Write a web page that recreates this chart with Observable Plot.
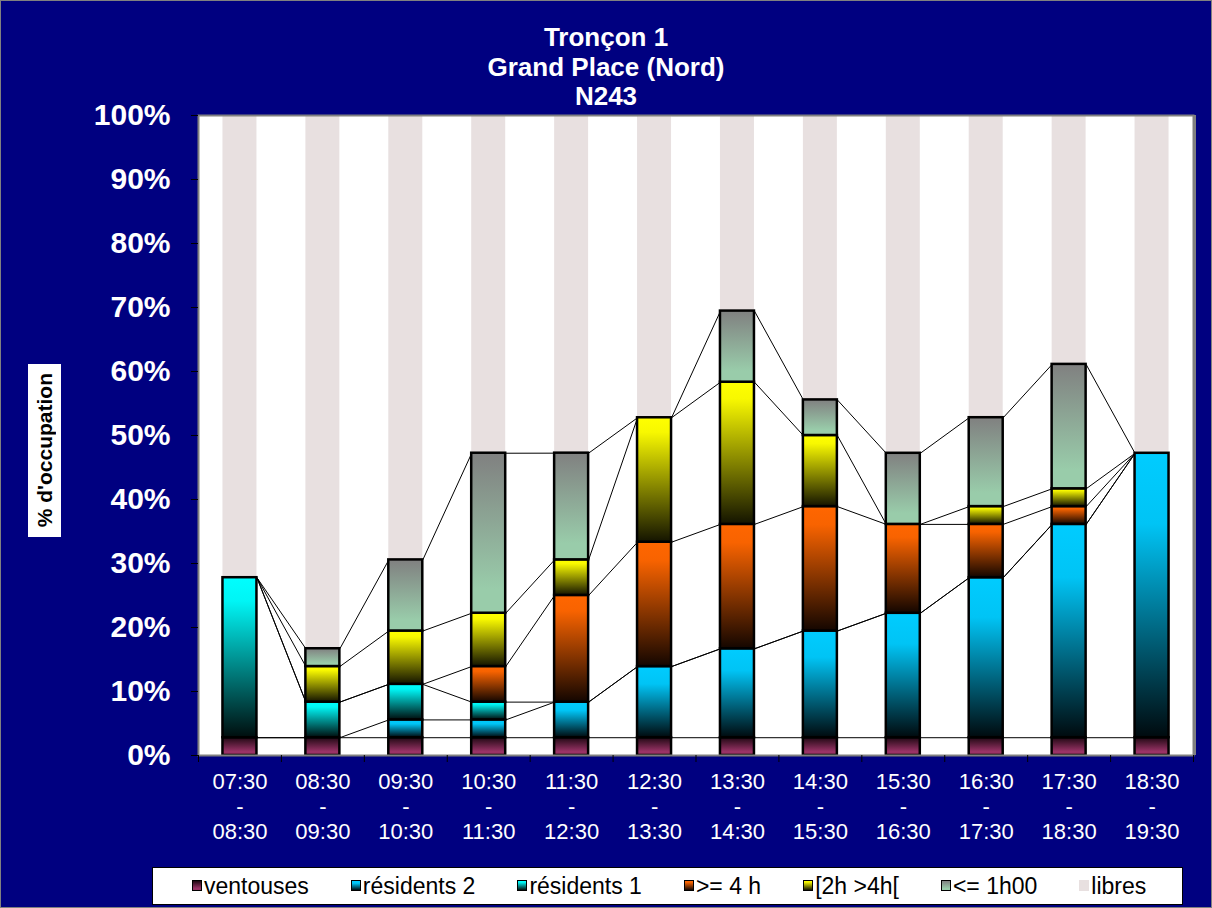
<!DOCTYPE html>
<html>
<head>
<meta charset="utf-8">
<script src="https://cdn.jsdelivr.net/npm/d3@7"></script>
<script src="https://cdn.jsdelivr.net/npm/@observablehq/plot@0.6"></script>
<style>
  body { margin: 0; background: #000080; }
  #wrap { position: relative; width: 1212px; height: 908px; overflow: hidden; background: #000080;
          font-family: "Liberation Sans", Arial, sans-serif; }
  #chart { position: absolute; left: 0; top: 0; }
  #title { position: absolute; left: 0; top: 23px; width: 1212px; text-align: center; color: white;
           font-weight: bold; font-size: 26px; line-height: 29.5px; }
  #ylabel { position: absolute; left: 28px; top: 364px; width: 33px; height: 173px; background: white;
            display: flex; align-items: center; justify-content: center; }
  #ylabel span { writing-mode: vertical-rl; transform: rotate(180deg); font-weight: bold; font-size: 21px;
                 color: black; white-space: nowrap; }
  #legend { position: absolute; left: 152px; top: 867px; width: 1031px; height: 38px; box-sizing: border-box;
            border: 1px solid black; background: white; display: flex; align-items: center;
            justify-content: flex-start; gap: 42px; padding-left: 39px; }
  .item { display: flex; align-items: center; white-space: nowrap; flex-shrink: 0; }
  .sw { width: 10px; height: 11px; flex-shrink: 0; box-sizing: border-box; border: 1.5px solid black;
        margin-right: 2px; margin-top: -2px; }
  .lt { font-size: 23px; color: black; }
  #border { position: absolute; left: 0; top: 0; width: 1212px; height: 908px; box-sizing: border-box;
            border: 1px solid #808080; pointer-events: none; }
</style>
</head>
<body>
<div id="wrap">
  <div id="chart"></div>
  <div id="title">Tronçon 1<br>Grand Place (Nord)<br>N243</div>
  <div id="ylabel"><span>% d'occupation</span></div>
  <div id="legend"></div>
  <div id="border"></div>
</div>
<script>
// ---- Data (percent of 36 places) ----
const categories = [
  "07:30\n-\n08:30", "08:30\n-\n09:30", "09:30\n-\n10:30", "10:30\n-\n11:30",
  "11:30\n-\n12:30", "12:30\n-\n13:30", "13:30\n-\n14:30", "14:30\n-\n15:30",
  "15:30\n-\n16:30", "16:30\n-\n17:30", "17:30\n-\n18:30", "18:30\n-\n19:30"
];
const yTicks = [0, 10, 20, 30, 40, 50, 60, 70, 80, 90, 100];
const seriesNames = ["ventouses", "résidents 2", "résidents 1", ">= 4 h", "[2h >4h[", "<= 1h00", "libres"];

const ventouses  = [2.78, 2.78, 2.78, 2.78, 2.78, 2.78, 2.78, 2.78, 2.78, 2.78, 2.78, 2.78];
const residents2 = [0, 0, 2.78, 2.78, 5.56, 11.11, 13.89, 16.67, 19.44, 25.00, 33.33, 44.44];
const residents1 = [25.00, 5.56, 5.56, 2.78, 0, 0, 0, 0, 0, 0, 0, 0];
const plus4h     = [0, 0, 0, 5.56, 16.67, 19.44, 19.44, 19.44, 13.89, 8.33, 2.78, 0];
const de2a4h     = [0, 5.56, 8.33, 8.33, 5.56, 19.44, 22.22, 11.11, 0, 2.78, 2.78, 0];
const moins1h    = [0, 2.78, 11.11, 25.00, 16.67, 0, 11.11, 5.56, 11.11, 13.89, 19.44, 0];
const libres     = [72.22, 83.33, 69.44, 52.78, 52.78, 47.22, 30.56, 44.44, 52.78, 47.22, 38.89, 52.78];

const seriesValues = [ventouses, residents2, residents1, plus4h, de2a4h, moins1h, libres];

// gradient styles (top -> bottom)
const gradStops = [
  [[0, "#1e0812"], [0.8, "#993366"], [1, "#993366"]],
  [[0, "#00CCFF"], [0.25, "#00C4F5"], [1, "#000a0e"]],
  [[0, "#00FFFF"], [0.15, "#00F5F5"], [1, "#000e0e"]],
  [[0, "#FF6600"], [0.15, "#F86300"], [1, "#140600"]],
  [[0, "#FFFF00"], [0.12, "#F8F800"], [1, "#141400"]],
  [[0, "#808080"], [0.85, "#99CCAA"], [1, "#99CCAA"]],
  [[0, "#E8E0E0"], [1, "#E8E0E0"]]
];

// ---- Stack ----
const segments = [];
const tops = seriesNames.map(() => []);
categories.forEach((c, i) => {
  let acc = 0;
  seriesValues.forEach((vals, s) => {
    const y1 = acc, y2 = Math.min(100, acc + vals[i]);
    acc = y2;
    tops[s].push(y2);
    if (vals[i] > 0) segments.push({i, s, y1, y2});
  });
});
const links = [];
seriesValues.forEach((_, s) => {
  for (let i = 0; i < categories.length - 1; i++) links.push({s, i, a: tops[s][i], b: tops[s][i + 1]});
});

const hw = 0.205; // half bar width in band units

const barMarks = seriesNames.slice(0, 6).map((n, s) =>
  Plot.rectY(segments.filter(d => d.s === s), {
    x1: d => d.i - hw, x2: d => d.i + hw, y1: "y1", y2: "y2",
    fill: `url(#g${s})`, stroke: "black", strokeWidth: 2.5
  })
);

const chart = Plot.plot({
  width: 1212, height: 908,
  marginLeft: 198, marginRight: 19, marginTop: 115, marginBottom: 153,
  x: {domain: [-0.5, categories.length - 0.5]},
  y: {domain: [0, 100]},
  style: {background: "#000080", fontFamily: "'Liberation Sans', Arial, sans-serif", overflow: "visible"},
  marks: [
    Plot.frame({fill: "white", stroke: "none"}),
    Plot.rectY(segments.filter(d => d.s === 6), {
      x1: d => d.i - hw, x2: d => d.i + hw, y1: "y1", y2: "y2", fill: "#E8E0E0"
    }),
    Plot.link(links, {x1: d => d.i + hw, x2: d => d.i + 1 - hw, y1: "a", y2: "b", stroke: "black", strokeWidth: 1}),
    ...barMarks,
    Plot.frame({stroke: "#808080", strokeWidth: 2}),
    Plot.ruleX([categories.length - 0.5], {stroke: "#808080", strokeWidth: 3, dx: 1}),
    Plot.axisY({ticks: yTicks, tickFormat: d => d + "%", tickSize: 7, tickPadding: 21,
                fill: "white", stroke: "black", fontSize: 30, fontWeight: "bold", label: null}),
    Plot.axisX({ticks: d3.range(categories.length), tickFormat: i => categories[i], tickSize: 0, tickPadding: 16,
                fill: "white", fontSize: 22, lineHeight: 1.14, label: null}),
    Plot.axisX({ticks: d3.range(categories.length + 1).map(i => i - 0.5), tickFormat: () => "",
                tickSize: 7, stroke: "black", label: null})
  ]
});

// gradients
const defs = d3.select(chart).insert("defs", ":first-child");
gradStops.forEach((stops, s) => {
  const g = defs.append("linearGradient").attr("id", "g" + s)
    .attr("x1", 0).attr("y1", 0).attr("x2", 0).attr("y2", 1);
  stops.forEach(([o, c]) => g.append("stop").attr("offset", o).attr("stop-color", c));
});

document.getElementById("chart").appendChild(chart);

// legend
const legend = d3.select("#legend");
seriesNames.forEach((name, s) => {
  const item = legend.append("div").attr("class", "item");
  const css = "linear-gradient(to bottom, " + gradStops[s].map(([o, c]) => `${c} ${o * 100}%`).join(", ") + ")";
  const sw = item.append("div").attr("class", "sw").style("background", css);
  if (s === 6) sw.style("border", "none");
  item.append("span").attr("class", "lt").text(name);
});
</script>
</body>
</html>
